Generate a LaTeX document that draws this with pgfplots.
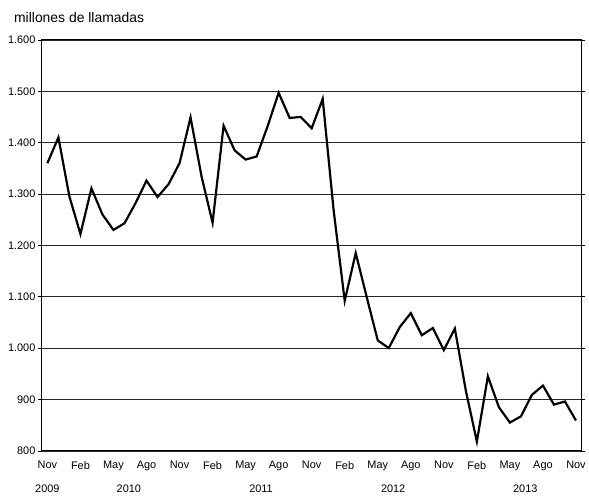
\documentclass[border=0pt]{standalone}
\usepackage{pgfplots}
\pgfplotsset{compat=1.18}
\usepackage{fontspec}
\setmainfont{Liberation Sans}
\begin{document}
\begin{tikzpicture}
\begin{axis}[
  scale only axis,
  width=541bp, height=412bp,
  xmin=-0.5, xmax=48.5,
  ymin=800, ymax=1600,
  ytick={800,900,1000,1100,1200,1300,1400,1500,1600},
  xtick={0,3,6,9,12,15,18,21,24,27,30,33,36,39,42,45,48},
  xticklabels={Nov,Feb,May,Ago,Nov,Feb,May,Ago,Nov,Feb,May,Ago,Nov,Feb,May,Ago,Nov},
  ymajorgrids,
  grid style={black!85, line width=0.6pt},
  axis line style={black, line width=0.9pt},
  tick align=outside,
  xtick style={draw=none},
  ytick style={black, line width=0.6pt},
  major tick length=4bp,
  tick label style={font=\fontsize{11}{13}\selectfont},
  yticklabel style={xshift=1bp},
  xticklabel style={yshift=-3bp},
  /pgf/number format/.cd, assume math mode=true, set thousands separator={.},
  /pgfplots/.cd,
  clip=false,
]
\addplot[black, line width=2.2pt, line join=miter] coordinates {
(0,1360) (1,1410) (2,1295) (3,1222) (4,1311) (5,1260) (6,1230) (7,1243)
(8,1282) (9,1326) (10,1294) (11,1319) (12,1360) (13,1449) (14,1334) (15,1244)
(16,1433) (17,1385) (18,1367) (19,1373) (20,1432) (21,1497) (22,1448) (23,1450)
(24,1428) (25,1485) (26,1267) (27,1092) (28,1185) (29,1099) (30,1015) (31,1000)
(32,1041) (33,1068) (34,1025) (35,1039) (36,996) (37,1038) (38,917) (39,818)
(40,945) (41,885) (42,855) (43,867) (44,909) (45,927) (46,890) (47,896) (48,859)
};
\node[anchor=base, font=\fontsize{11}{13}\selectfont] at (axis cs:0,800) [yshift=-42bp] {2009};
\node[anchor=base, font=\fontsize{11}{13}\selectfont] at (axis cs:7.4,800) [yshift=-42bp] {2010};
\node[anchor=base, font=\fontsize{11}{13}\selectfont] at (axis cs:19.4,800) [yshift=-42bp] {2011};
\node[anchor=base, font=\fontsize{11}{13}\selectfont] at (axis cs:31.4,800) [yshift=-42bp] {2012};
\node[anchor=base, font=\fontsize{11}{13}\selectfont] at (axis cs:43.4,800) [yshift=-42bp] {2013};
\node[anchor=base west, inner sep=0pt, font=\fontsize{14}{16}\selectfont] at (rel axis cs:0,1) [xshift=-28bp, yshift=17bp] {millones de llamadas};
\end{axis}
\path[use as bounding box] ([xshift=-42bp, yshift=-44bp]current axis.south west) rectangle ([xshift=6bp, yshift=40bp]current axis.north east);
\end{tikzpicture}
\end{document}
